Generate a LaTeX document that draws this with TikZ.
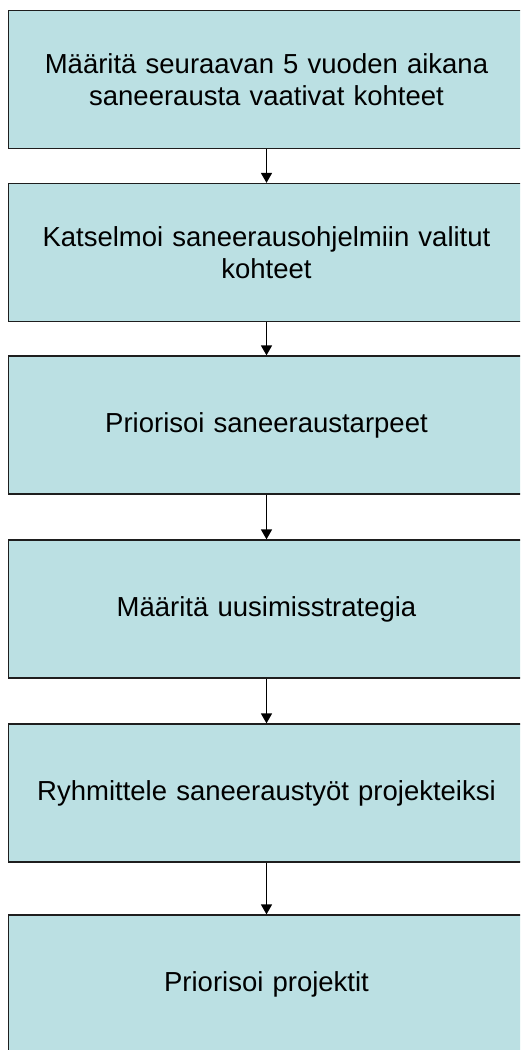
\documentclass[tikz,border=0pt]{standalone}
\usepackage{fontspec}
\setmainfont{Liberation Sans}
\usetikzlibrary{arrows.meta}
\definecolor{boxfill}{RGB}{187,224,227}
\definecolor{boxline}{RGB}{30,30,30}
\begin{document}
\begin{tikzpicture}[x=1pt,y=1pt,
  stepbox/.style={draw=boxline, line width=1.3pt, fill=boxfill,
    minimum width=516pt, minimum height=138pt, inner sep=0pt,
    text width=500pt, align=center,
    font=\fontsize{27.5}{31.5}\selectfont},
  flow/.style={line width=1.5pt, -{Triangle[length=10pt,width=11pt]}}]
  \useasboundingbox (0,0) rectangle (520,-1050);
  \clip (0,0) rectangle (520,-1050);
  \node[stepbox] (s1) at (266.5,-79.5) {Määritä seuraavan 5 vuoden aikana\\saneerausta vaativat kohteet};
  \node[stepbox] (s2) at (266.5,-252.5) {Katselmoi saneerausohjelmiin valitut\\kohteet};
  \node[stepbox] (s3) at (266.5,-425) {Priorisoi saneeraustarpeet};
  \node[stepbox] (s4) at (266.5,-609) {Määritä uusimisstrategia};
  \node[stepbox] (s5) at (266.5,-793) {Ryhmittele saneeraustyöt projekteiksi};
  \node[stepbox] (s6) at (266.5,-984) {Priorisoi projektit};
  \draw[flow] (s1.south) -- (s2.north);
  \draw[flow] (s2.south) -- (s3.north);
  \draw[flow] (s3.south) -- (s4.north);
  \draw[flow] (s4.south) -- (s5.north);
  \draw[flow] (s5.south) -- (s6.north);
\end{tikzpicture}
\end{document}
